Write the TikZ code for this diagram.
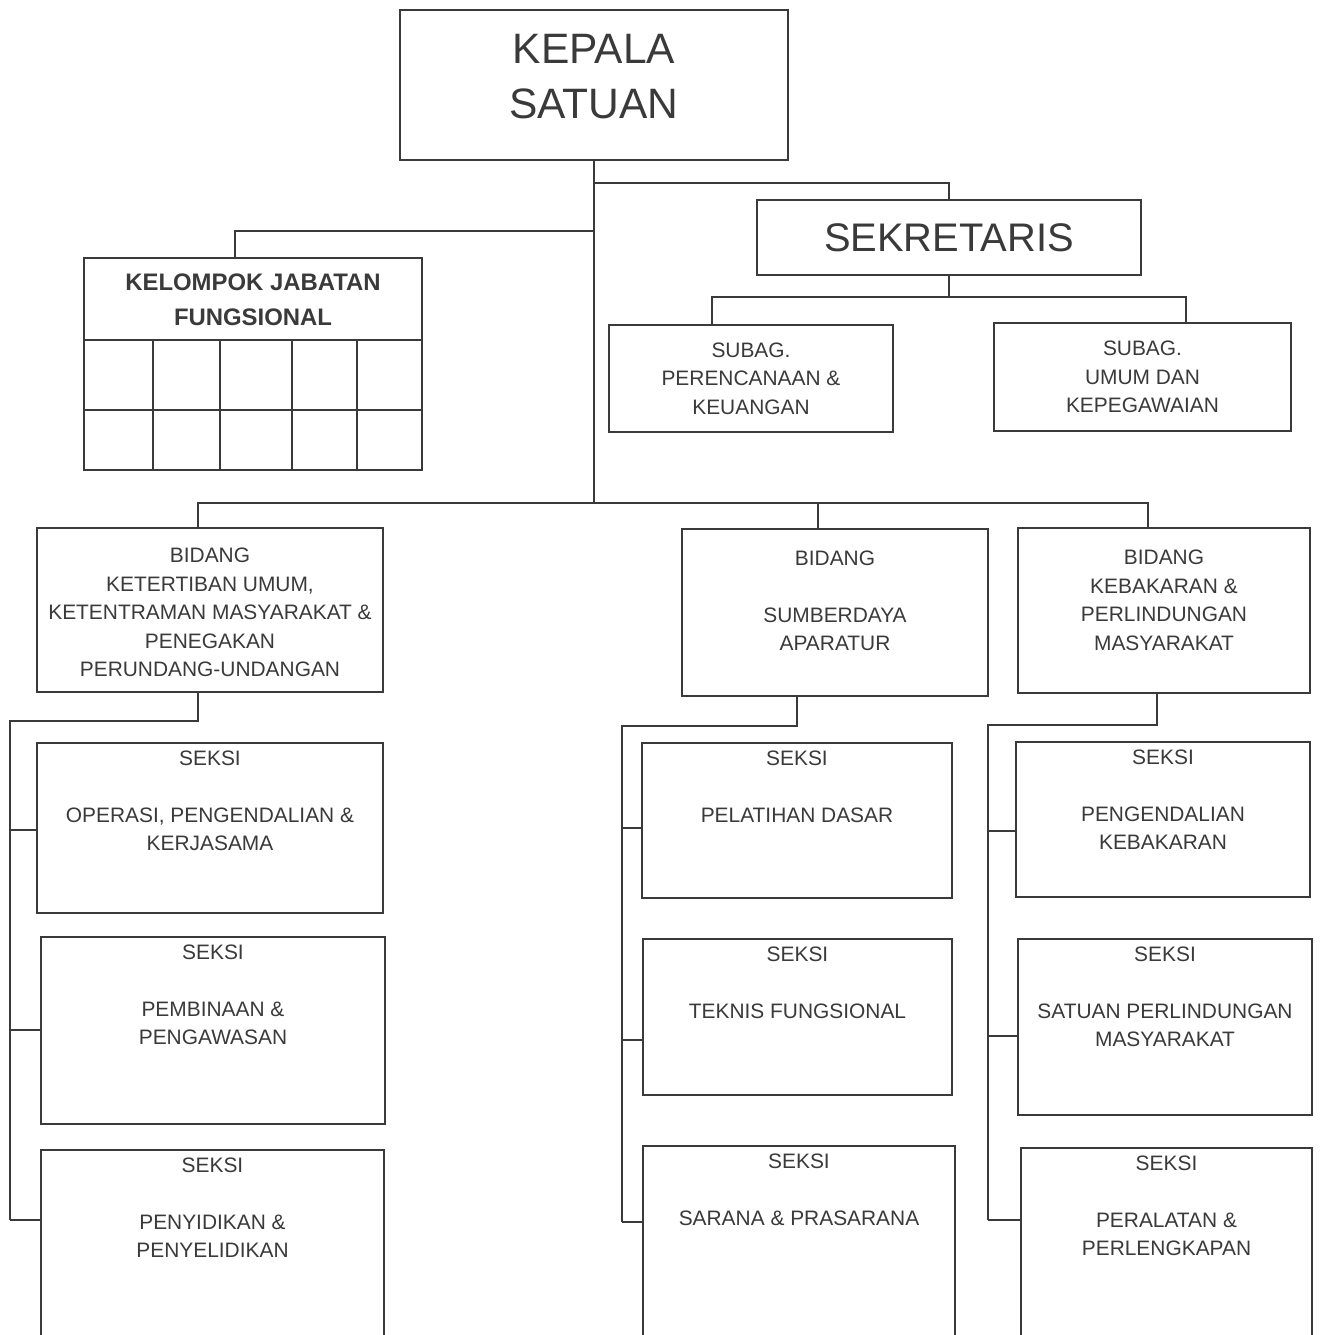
\documentclass[tikz,border=0pt]{standalone}
\usepackage{fontspec}
\setmainfont{Liberation Sans}
\usetikzlibrary{calc}
\definecolor{ink}{HTML}{3A3A3A}
\newcommand\smalltxt{\fontsize{11.9}{16.2}\selectfont}
\newcommand\boldtxt{\fontsize{13.6}{19.8}\selectfont\bfseries}
\newcommand\bigtxt{\fontsize{24.2}{31.2}\selectfont}
\tikzset{
  wh/.style 2 args={minimum width=#1*0.02cm, minimum height=#2*0.02cm},
  box/.style={draw=ink, line width=1.5pt, fill=white, inner sep=1pt, align=center, text=ink, font=\smalltxt},
  toptxt/.style={anchor=north, inner sep=0pt, align=center, text=ink, font=\smalltxt, yshift=-#1*0.02cm},
  link/.style={draw=ink, line width=1.5pt}
}
\begin{document}
\begin{tikzpicture}[x=0.02cm, y=-0.02cm]
\useasboundingbox (0,0) rectangle (1319,1335);
\clip (0,0) rectangle (1319,1335);
\fill[white] (0,0) rectangle (1319,1335);
% top: head, secretary and its two sub-sections
\node[box, wh={388}{150}, label={[toptxt=25, font=\bigtxt]north:KEPALA\\SATUAN}] (kepala) at (594,85) {};
\node[box, wh={384}{75}, font=\fontsize{22.7}{28}\selectfont] (sekr) at (949,237.5) {SEKRETARIS};
\node[box, wh={284}{107}] (sub1) at (751,378.5) {SUBAG.\\PERENCANAAN \&\\KEUANGAN};
\node[box, wh={297}{108}] (sub2) at (1142.5,377) {SUBAG.\\UMUM DAN\\KEPEGAWAIAN};
% functional group with its empty grid
\node[box, wh={338}{82}, label={[toptxt=17, font=\boldtxt]north:KELOMPOK JABATAN\\FUNGSIONAL}] (kjf) at (253,299) {};
\draw[link] (84,340) rectangle (422,470);
\draw[link] (84,410) -- (422,410);
\foreach \x in {153,220,292,357} {\draw[link] (\x,340) -- (\x,470);}
% the three bidang
\node[box, wh={346}{164}, label={[toptxt=21]north:BIDANG\\KETERTIBAN UMUM,\\KETENTRAMAN MASYARAKAT \&\\PENEGAKAN\\PERUNDANG-UNDANGAN}] (bid1) at (210,610) {};
\node[box, wh={306}{167}, label={[toptxt=23]north:BIDANG\\[16pt]SUMBERDAYA\\APARATUR}] (bid2) at (835,612.5) {};
\node[box, wh={292}{165}, label={[toptxt=23]north:BIDANG\\KEBAKARAN \&\\PERLINDUNGAN\\MASYARAKAT}] (bid3) at (1164,610.5) {};
% seksi, left column
\node[box, wh={346}{170}, label={[toptxt=9]north:SEKSI\\[16pt]OPERASI, PENGENDALIAN \&\\KERJASAMA}] (L1) at (210,828) {};
\node[box, wh={344}{187}, label={[toptxt=9]north:SEKSI\\[16pt]PEMBINAAN \&\\PENGAWASAN}] (L2) at (213,1030.5) {};
\node[box, wh={343}{200}, label={[toptxt=9]north:SEKSI\\[16pt]PENYIDIKAN \&\\PENYELIDIKAN}] (L3) at (212.5,1250) {};
% seksi, middle column
\node[box, wh={310}{155}, label={[toptxt=9]north:SEKSI\\[16pt]PELATIHAN DASAR}] (M1) at (797,820.5) {};
\node[box, wh={309}{156}, label={[toptxt=9]north:SEKSI\\[16pt]TEKNIS FUNGSIONAL}] (M2) at (797.5,1017) {};
\node[box, wh={312}{200}, label={[toptxt=9]north:SEKSI\\[16pt]SARANA \& PRASARANA}] (M3) at (799,1246) {};
% seksi, right column
\node[box, wh={294}{155}, label={[toptxt=9]north:SEKSI\\[16pt]PENGENDALIAN\\KEBAKARAN}] (R1) at (1163,819.5) {};
\node[box, wh={294}{176}, label={[toptxt=9]north:SEKSI\\[16pt]SATUAN PERLINDUNGAN\\MASYARAKAT}] (R2) at (1165,1027) {};
\node[box, wh={291}{200}, label={[toptxt=9]north:SEKSI\\[16pt]PERALATAN \&\\PERLENGKAPAN}] (R3) at (1166.5,1248) {};
% connectors from the head
\coordinate (j1) at (594,183);
\coordinate (j2) at (594,231);
\coordinate (j3) at (594,503);
\coordinate (j4) at (949,297);
\draw[link] (kepala.south) -- (j3);
\draw[link] (j1) -| (sekr.north);
\draw[link] (j2) -| ($(kjf.north)+(-18,0)$);
\draw[link] (sekr.south) -- (j4);
\draw[link] ($(sub1.north)+(-39,0)$) |- (j4) -| ($(sub2.north)+(43.5,0)$);
\draw[link] ($(bid1.north)+(-12,0)$) |- (j3) -| ($(bid3.north)+(-16,0)$);
\draw[link] ($(bid2.north)+(-17,0)$) coordinate (d2) -- (d2 |- j3);
% buses down each column
\coordinate (lbus) at (10,721);
\coordinate (mbus) at (622,726);
\coordinate (rbus) at (988,725);
\draw[link] ($(bid1.south)+(-12,0)$) |- (lbus) -- (10,1220);
\draw[link] ($(bid2.south)+(-38,0)$) |- (mbus) -- (622,1222);
\draw[link] ($(bid3.south)+(-7,0)$) |- (rbus) -- (988,1220);
\foreach \x/\y/\s in {10/830/L1, 10/1030/L2, 10/1220/L3, 622/828/M1, 622/1040/M2, 622/1222/M3, 988/831/R1, 988/1036/R2, 988/1220/R3} {
  \coordinate (b) at (\x,\y);
  \draw[link] (b) -- (b -| \s.west);
}
\end{tikzpicture}
\end{document}
